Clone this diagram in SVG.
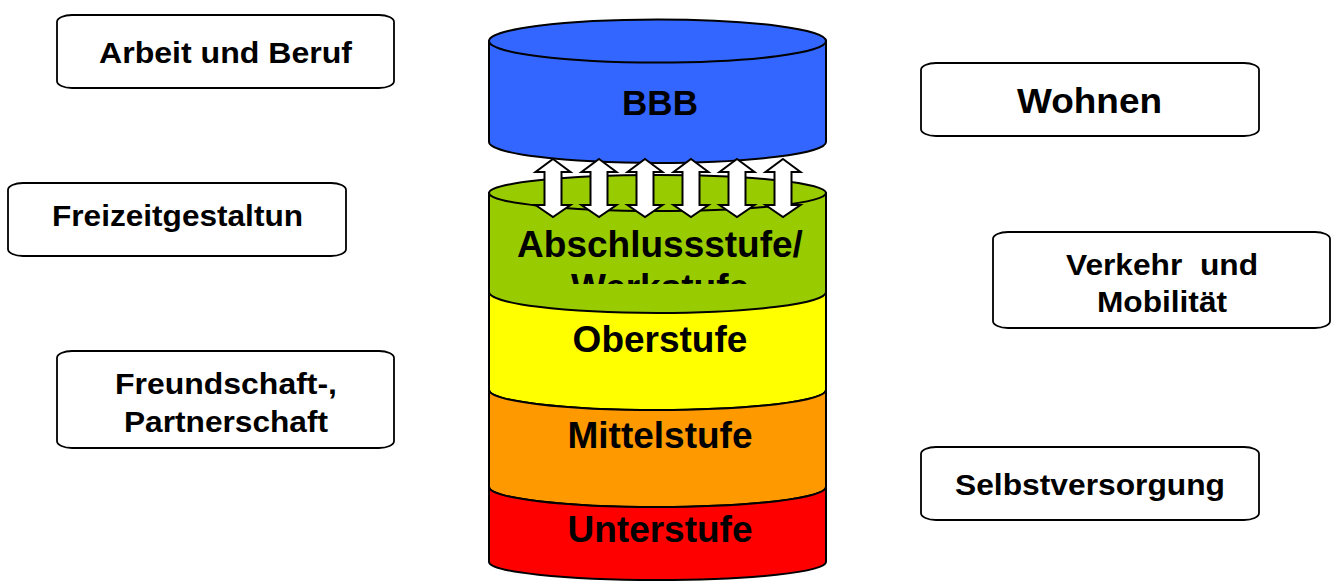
<svg xmlns="http://www.w3.org/2000/svg" width="1333" height="581" viewBox="0 0 1333 581">
<style>
.box{fill:#fff;stroke:#000;stroke-width:1.8}
.lbl{font-family:"Liberation Sans",Arial,sans-serif;font-weight:bold;fill:#000;text-anchor:middle}
.cyl{stroke:#000;stroke-width:2}
.arr{fill:#fff;stroke:#000;stroke-width:2;stroke-linejoin:miter}
</style>
<defs>
<path id="dblarrow" d="M0,159 L17.5,172 L8.5,172 L8.5,205 L17.5,205 L0,217 L-17.5,205 L-8.5,205 L-8.5,172 L-17.5,172 Z"/>
<clipPath id="greenclip"><rect x="489" y="200" width="337" height="84"/></clipPath>
</defs>
<rect width="1333" height="581" fill="#fff"/>

<g id="stack">
<g id="green">
<path class="cyl" fill="#99CC00" d="M489,193 L489,330 L826,330 L826,193 Z"/>
<ellipse class="cyl" fill="#99CC00" cx="657.5" cy="193" rx="168.5" ry="18"/>
<g clip-path="url(#greenclip)">
<text class="lbl" x="660" y="257" font-size="37">Abschlussstufe/</text>
<text class="lbl" x="660" y="300" font-size="37">Werkstufe</text>
</g>
</g>
<g id="yellow">
<path class="cyl" fill="#FFFF00" d="M489,292 A168.5,21 0 0 0 826,292 L826,390 A168.5,20 0 0 1 489,390 Z"/>
<text class="lbl" x="660" y="352" font-size="37">Oberstufe</text>
</g>
<g id="orange">
<path class="cyl" fill="#FF9900" d="M489,390 A168.5,20 0 0 0 826,390 L826,487 A168.5,20 0 0 1 489,487 Z"/>
<text class="lbl" x="660" y="448" font-size="37">Mittelstufe</text>
</g>
<g id="red">
<path class="cyl" fill="#FF0000" d="M489,487 A168.5,20 0 0 0 826,487 L826,562 A168.5,18 0 0 1 489,562 Z"/>
<text class="lbl" x="660" y="542" font-size="37">Unterstufe</text>
</g>
<g id="bbb">
<path class="cyl" fill="#3366FF" d="M489,41 L489,142 A168.5,21 0 0 0 826,142 L826,41 Z"/>
<ellipse class="cyl" fill="#3366FF" cx="657.5" cy="41" rx="168.5" ry="21.5"/>
<text class="lbl" x="660" y="115" font-size="35">BBB</text>
</g>
</g>

<g id="connectors">
<use href="#dblarrow" class="arr" x="553"/>
<use href="#dblarrow" class="arr" x="599"/>
<use href="#dblarrow" class="arr" x="645"/>
<use href="#dblarrow" class="arr" x="691"/>
<use href="#dblarrow" class="arr" x="737"/>
<use href="#dblarrow" class="arr" x="783"/>
</g>

<g id="arbeit">
<rect class="box" x="57" y="15" width="337" height="73" rx="15" ry="7"/>
<text class="lbl" x="225.5" y="63" font-size="30" textLength="253" lengthAdjust="spacingAndGlyphs">Arbeit und Beruf</text>
</g>
<g id="freizeit">
<rect class="box" x="8" y="183" width="338" height="73" rx="15" ry="7"/>
<text class="lbl" x="177.5" y="226" font-size="30" textLength="251" lengthAdjust="spacingAndGlyphs">Freizeitgestaltun</text>
</g>
<g id="freundschaft">
<rect class="box" x="57" y="351" width="337" height="97" rx="15" ry="7"/>
<text class="lbl" x="226" y="394" font-size="30" textLength="222" lengthAdjust="spacingAndGlyphs">Freundschaft-,</text>
<text class="lbl" x="226" y="432" font-size="30" textLength="204" lengthAdjust="spacingAndGlyphs">Partnerschaft</text>
</g>
<g id="wohnen">
<rect class="box" x="921" y="63" width="338" height="73" rx="15" ry="7"/>
<text class="lbl" x="1089.5" y="113" font-size="35" textLength="145" lengthAdjust="spacingAndGlyphs">Wohnen</text>
</g>
<g id="verkehr">
<rect class="box" x="993" y="232" width="337" height="96" rx="15" ry="7"/>
<text class="lbl" x="1162" y="275" font-size="30" textLength="192" lengthAdjust="spacingAndGlyphs" xml:space="preserve">Verkehr  und</text>
<text class="lbl" x="1162" y="312" font-size="30" textLength="130" lengthAdjust="spacingAndGlyphs">Mobilität</text>
</g>
<g id="selbst">
<rect class="box" x="921" y="447" width="338" height="73" rx="15" ry="7"/>
<text class="lbl" x="1090" y="495" font-size="30" textLength="270" lengthAdjust="spacingAndGlyphs">Selbstversorgung</text>
</g>
</svg>
